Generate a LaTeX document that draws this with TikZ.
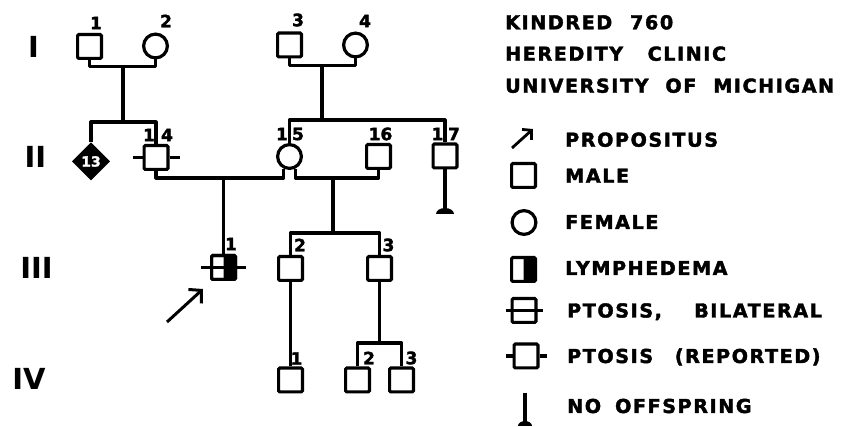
\documentclass[tikz,border=0pt]{standalone}
\usepackage{fontspec}
\usetikzlibrary{arrows.meta,shapes.geometric}
\newfontfamily\lettering{DejaVu Sans Bold}[LetterSpace=8, FakeBold=2]
\newfontfamily\digitfont{DejaVu Sans Bold}[FakeBold=2]
\newfontfamily\romanfont{DejaVu Sans Bold}

\tikzset{
  pline/.style={line width=3.2pt, line join=round},
  male/.style={draw, rectangle, minimum size=23.8pt, inner sep=0pt, line width=3.2pt, rounded corners=1.2pt},
  female/.style={draw, circle, minimum size=23.8pt, inner sep=0pt, line width=3.2pt},
  unknown/.style={draw, diamond, fill=black, minimum width=36pt, minimum height=36pt, inner sep=0pt, line width=2pt,
    text=white, font=\digitfont\fontsize{14}{14}\selectfont},
  affected/.style={path picture={\fill (path picture bounding box.north) rectangle (path picture bounding box.south east);}},
  num/.style={font=\digitfont\fontsize{17}{17}\selectfont, inner sep=0pt},
  gen/.style={font=\romanfont\fontsize{29}{29}\selectfont, inner sep=0pt},
  legtext/.style={font=\lettering\fontsize{19.2}{20}\selectfont, anchor=base west, inner sep=0pt},
  pointer/.style={line width=3pt, -{Straight Barb[length=9pt,width=19pt,line width=3pt]}},
  smallpointer/.style={line width=2.8pt, -{Straight Barb[length=6.5pt,width=14pt,line width=2.8pt]}},
}

\begin{document}
\begin{tikzpicture}[x=1pt,y=-1pt]
\useasboundingbox (0,0) rectangle (841,427);

% generation numerals
\node[gen] (gI)   at (33.5,47)  {I};
\node[gen] (gII)  at (35.5,157) {II};
\node[gen] (gIII) at (36.5,268) {III};
\node[gen] (gIV)  at (29,379)   {IV};

% generation I
\node[male]   (I1) at (89.5,46.5) {};
\node[female] (I2) at (155.5,46)  {};
\node[male]   (I3) at (289.5,45)  {};
\node[female] (I4) at (355.5,45)  {};
\node[num] (nI1) at (96,23)  {1};
\node[num] (nI2) at (166,21) {2};
\node[num] (nI3) at (298,20) {3};
\node[num] (nI4) at (365,21) {4};

% generation II
\node[unknown] (II13) at (91,161.5) {13};
\node[male]    (II14) at (156,157.5) {};
\node[female]  (II15) at (289.5,156.5) {};
\node[male]    (II16) at (378.5,156.5) {};
\node[male]    (II17) at (445,156) {};
\node[num] (nII14a) at (149,135) {1};
\node[num] (nII14b) at (167,135) {4};
\node[num] (nII15a) at (282,134) {1};
\node[num] (nII15b) at (298,134) {5};
\node[num] (nII16)  at (380.5,134) {16};
\node[num] (nII17a) at (437.5,134) {1};
\node[num] (nII17b) at (454,134) {7};

% generation III
\node[male, affected] (III1) at (223.5,267.5) {};
\node[male] (III2) at (290.5,268.5) {};
\node[male] (III3) at (379.5,268.5) {};
\node[num] (nIII1) at (231,244) {1};
\node[num] (nIII2) at (300,245) {2};
\node[num] (nIII3) at (388.5,245) {3};

% generation IV
\node[male] (IV1) at (290.5,380) {};
\node[male] (IV2) at (357.5,380) {};
\node[male] (IV3) at (401.5,380) {};
\node[num] (nIV1) at (296.5,358.5) {1};
\node[num] (nIV2) at (369,358) {2};
\node[num] (nIV3) at (411.5,358) {3};

% junction points of the pedigree lines
\coordinate (m12)   at (123,66.5);
\coordinate (s12)   at (123,122);
\coordinate (m34)   at (322,65.5);
\coordinate (s34)   at (322,120);
\coordinate (m1415) at (223.5,178);
\coordinate (m1516) at (333,178);
\coordinate (s1516) at (333,233);
\coordinate (sIII3) at (379.5,343);
\coordinate (end17) at (445,214);

% marriages and descent
\draw[pline] (I1.south) |- (m12) -| (I2.south);
\draw[pline] (m12) -- (s12);
\draw[pline] (II13.north) |- (s12) -| (II14.north);
\draw[pline] (I3.south) |- (m34) -| (I4.south);
\draw[pline] (m34) -- (s34);
\draw[pline] (II15.north) |- (s34) -| (II17.north);
\draw[pline] (II14.south) |- (m1415) -| (II15.-116);
\draw[pline] (II15.-64) |- (m1516) -| (II16.south);
\draw[pline] (m1415) -- (III1.north);
\draw[pline] (m1516) -- (s1516);
\draw[pline] (III2.north) |- (s1516) -| (III3.north);
\draw[pline] (III2.south) -- (IV1.north);
\draw[pline] (III3.south) -- (sIII3);
\draw[pline] (IV2.north) |- (sIII3) -| (IV3.north);

% no offspring mark under II-17
\draw[pline] (II17.south) -- (end17);
\fill (end17) ++(-9pt,0) arc[start angle=180, end angle=0, x radius=9pt, y radius=6pt] -- cycle;

% ptosis marks
\draw[pline] ([xshift=-10pt]II14.west) -- (II14.west);
\draw[pline] (II14.east) -- ([xshift=10pt]II14.east);
\draw[pline] ([xshift=-9pt]III1.west) -- ([xshift=9pt]III1.east);
\node[male] (III1b) at (III1) {};

% propositus arrow
\coordinate (pA) at (167,322);
\coordinate (pB) at (203,289);
\draw[pointer] (pA) -- (pB);

% heading
\node[legtext] (t1) at (505,29.3) {KINDRED\hspace{0.5em} 760};
\node[legtext] (t2) at (505,60.7) {HEREDITY\hspace{0.85em} CLINIC};
\node[legtext] (t3) at (505,92.7) {UNIVERSITY\hspace{0.45em} OF\hspace{0.45em} MICHIGAN};

% key
\coordinate (kA) at (512,148);
\coordinate (kB) at (533,129);
\draw[smallpointer] (kA) -- (kB);
\node[legtext] (k1) at (565,146.7) {PROPOSITUS};

\node[male] (kMale) at (523.5,175.5) {};
\node[legtext] (k2) at (565,182.7) {MALE};

\node[female] (kFemale) at (524,222.5) {};
\node[legtext] (k3) at (565,229) {FEMALE};

\node[male, affected] (kLymph) at (523.5,269.5) {};
\node[legtext] (k4) at (565,275) {LYMPHEDEMA};

\node[male] (kBil) at (524,310.5) {};
\draw[pline] ([xshift=-5pt]kBil.west) -- ([xshift=5pt]kBil.east);
\node[legtext] (k5) at (567,317.5) {PTOSIS,\hspace{1.25em} BILATERAL};

\node[male] (kRep) at (526,356) {};
\draw[pline] ([xshift=-7pt]kRep.west) -- (kRep.west);
\draw[pline] (kRep.east) -- ([xshift=7pt]kRep.east);
\node[legtext] (k6) at (567,363) {PTOSIS\hspace{0.7em} (REPORTED)};

\coordinate (kN1) at (525,393);
\coordinate (kN2) at (525,426);
\draw[pline] (kN1) -- (kN2);
\fill (kN2) ++(-7pt,0) arc[start angle=180, end angle=0, x radius=7pt, y radius=5pt] -- cycle;
\node[legtext] (k7) at (567,413) {NO\hspace{0.3em} OFFSPRING};
\end{tikzpicture}
\end{document}
